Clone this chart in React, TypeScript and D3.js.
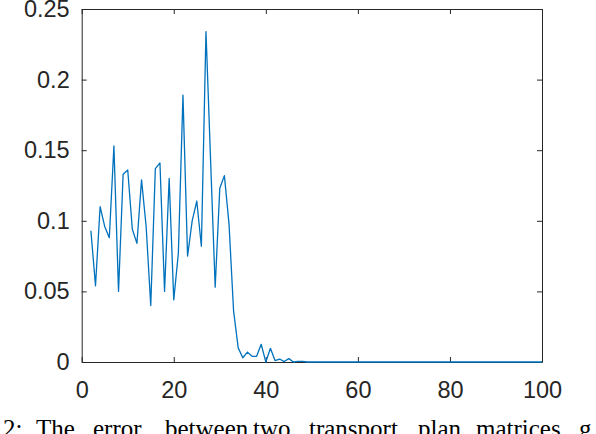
import React from "react";
import * as d3 from "d3";

const WIDTH = 596;
const HEIGHT = 434;
const MARGINS = { top: 9, right: 54, bottom: 72, left: 81.7 };

// iteration index of each sample
const iterations = [
  2, 3, 4, 5, 6, 7, 8, 9, 10, 11, 12, 13, 14, 15, 16, 17, 18, 19, 20, 21, 22,
  23, 24, 25, 26, 27, 28, 29, 30, 31, 32, 33, 34, 35, 36, 37, 38, 39, 40, 41,
  42, 43, 44, 45, 46, 47, 48, 49, 50, 51, 52, 53, 54, 55, 56, 57, 58, 59, 60,
  61, 62, 63, 64, 65, 66, 67, 68, 69, 70, 71, 72, 73, 74, 75, 76, 77, 78, 79,
  80, 81, 82, 83, 84, 85, 86, 87, 88, 89, 90, 91, 92, 93, 94, 95, 96, 97, 98,
  99, 100,
];

const errors = [
  0.093, 0.054, 0.11, 0.096, 0.088, 0.153, 0.05, 0.133, 0.136, 0.094, 0.084,
  0.129, 0.096, 0.04, 0.137, 0.141, 0.05, 0.13, 0.044, 0.077, 0.189, 0.075,
  0.1, 0.114, 0.082, 0.234, 0.143, 0.053, 0.123, 0.132, 0.098, 0.036, 0.01,
  0.003, 0.007, 0.004, 0.004, 0.0125, 0.0, 0.0097, 0.001, 0.0021, 0.0003,
  0.0024, 0.0, 0.0005, 0.0005, 0, 0, 0, 0, 0, 0, 0, 0, 0, 0, 0, 0, 0, 0, 0, 0,
  0, 0, 0, 0, 0, 0, 0, 0, 0, 0, 0, 0, 0, 0, 0, 0, 0, 0, 0, 0, 0, 0, 0, 0, 0, 0,
  0, 0, 0, 0, 0, 0, 0, 0, 0, 0, 0,
];

const xTicks = [0, 20, 40, 60, 80, 100];
const yTicks = [0, 0.05, 0.1, 0.15, 0.2, 0.25];
const yTickLabels = ["0", "0.05", "0.1", "0.15", "0.2", "0.25"];

// caption words (justified in the source page), with their left edges
const captionWords = [
  "2:", "The", "error", "between", "two", "transport", "plan", "matrices", "g",
];
const captionX = [3, 36, 93, 165, 253, 309, 418, 476, 579];

const AXIS_COLOR = "#262626";
const FONT = "'Liberation Sans', Arial, Helvetica, sans-serif";

const App = () => {
  const ref = React.useRef<SVGSVGElement>(null);

  React.useEffect(() => {
    const svgEl = ref.current!;
    d3.select(svgEl).selectAll("*").remove();

    const width = WIDTH - MARGINS.left - MARGINS.right;
    const height = HEIGHT - MARGINS.top - MARGINS.bottom;

    const svg = d3
      .select(svgEl)
      .append("g")
      .attr("transform", `translate(${MARGINS.left}, ${MARGINS.top})`);

    const x = d3.scaleLinear().domain([0, 100]).range([0, width]);
    const y = d3.scaleLinear().domain([0, 0.25]).range([height, 0]);

    const styleAxis = (g: d3.Selection<SVGGElement, unknown, null, undefined>) => {
      g.select(".domain").attr("stroke", AXIS_COLOR).attr("stroke-width", 1);
      g.selectAll(".tick line").attr("stroke", AXIS_COLOR);
      g.selectAll(".tick text")
        .attr("fill", AXIS_COLOR)
        .style("font-family", FONT)
        .style("font-size", "23.5px");
    };

    svg
      .append("g")
      .attr("transform", `translate(0, ${height})`)
      .call(
        d3
          .axisBottom(x)
          .tickValues(xTicks)
          .tickSizeInner(-5)
          .tickSizeOuter(0)
          .tickPadding(19)
      )
      .call(styleAxis);

    svg
      .append("g")
      .call(
        d3
          .axisLeft(y)
          .tickValues(yTicks)
          .tickFormat((_, i) => yTickLabels[i])
          .tickSizeInner(-5)
          .tickSizeOuter(0)
          .tickPadding(12)
      )
      .call(styleAxis);

    // box: top and right sides with inward ticks, no labels
    svg
      .append("g")
      .call(
        d3.axisTop(x).tickValues(xTicks).tickSizeInner(-5).tickSizeOuter(0).tickFormat(() => "")
      )
      .call(styleAxis);

    svg
      .append("g")
      .attr("transform", `translate(${width}, 0)`)
      .call(
        d3.axisRight(y).tickValues(yTicks).tickSizeInner(-5).tickSizeOuter(0).tickFormat(() => "")
      )
      .call(styleAxis);

    const line = d3
      .line<number>()
      .x((_, i) => x(iterations[i]))
      .y((d) => y(d));

    svg
      .append("path")
      .datum(errors)
      .attr("fill", "none")
      .attr("stroke", "#0072BD")
      .attr("stroke-width", 1.3)
      .attr("stroke-linejoin", "round")
      .attr("d", line);

    d3.select(svgEl)
      .append("g")
      .selectAll("text")
      .data(captionWords)
      .enter()
      .append("text")
      .attr("x", (_, i) => captionX[i])
      .attr("y", 437)
      .attr("fill", "#000")
      .style("font-family", "'Liberation Serif', 'Times New Roman', serif")
      .style("font-size", "25px")
      .text((d) => d);
  }, []);

  return (
    <svg
      ref={ref}
      width={WIDTH}
      height={HEIGHT}
      style={{ position: "fixed", left: 0, top: 0, background: "#fff" }}
    />
  );
};

export default App;
